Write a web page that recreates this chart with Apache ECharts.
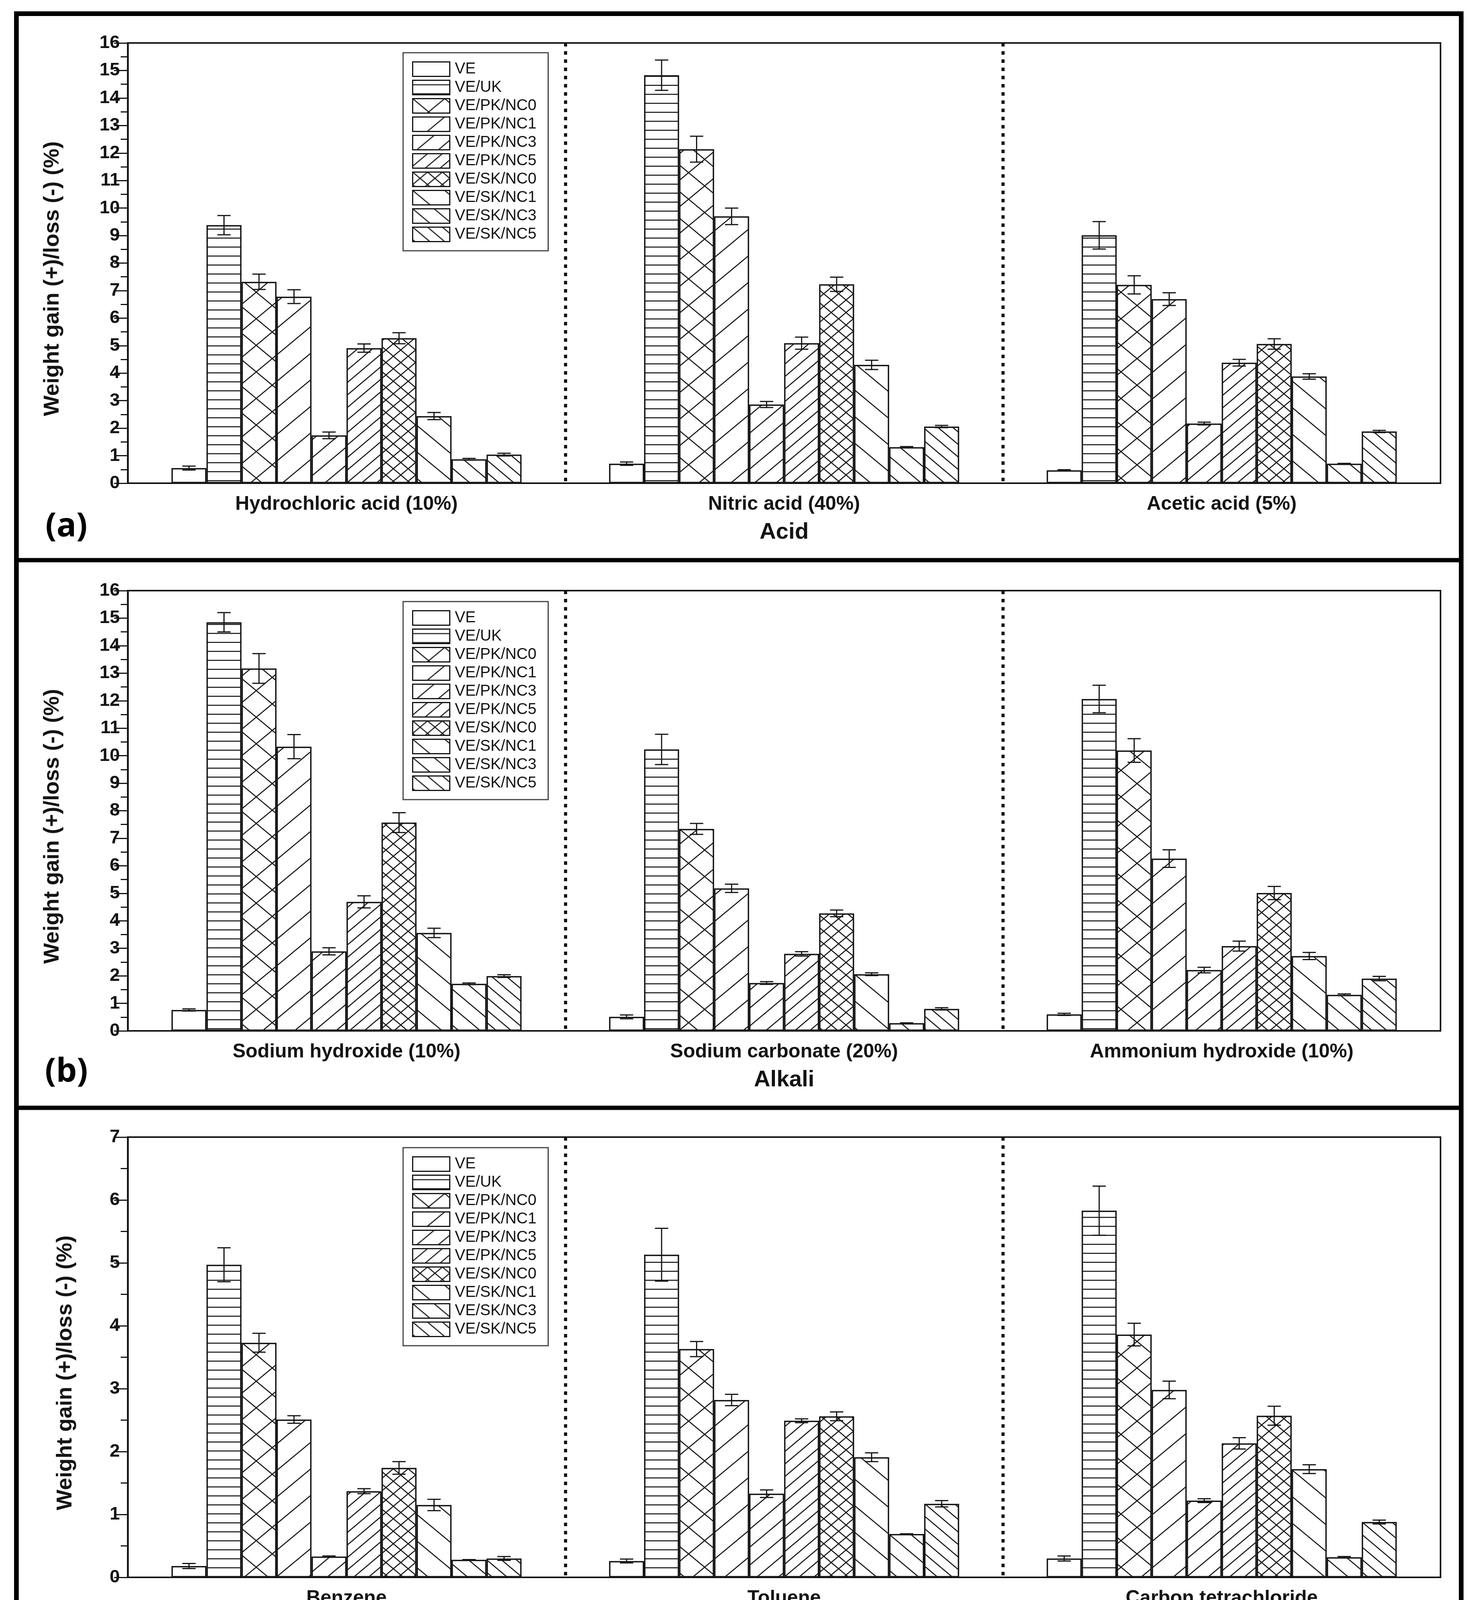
<!DOCTYPE html>
<html>
<head>
<meta charset="utf-8">
<script src="https://cdn.jsdelivr.net/npm/echarts@6/dist/echarts.min.js"></script>
<style>
html,body{margin:0;padding:0;background:#fff;}
#chart{width:3784px;height:4310px;}
</style>
</head>
<body>
<div id="chart"></div>
<script>
// ---------- data ----------
const seriesNames = ['VE','VE/UK','VE/PK/NC0','VE/PK/NC1','VE/PK/NC3','VE/PK/NC5','VE/SK/NC0','VE/SK/NC1','VE/SK/NC3','VE/SK/NC5'];

const acidCategories = ['Hydrochloric acid (10%)','Nitric acid (40%)','Acetic acid (5%)'];
const alkaliCategories = ['Sodium hydroxide (10%)','Sodium carbonate (20%)','Ammonium hydroxide (10%)'];
const solventCategories = ['Benzene','Toluene','Carbon tetrachloride'];

const hclValues    = [0.55, 9.38, 7.32, 6.78, 1.74, 4.91, 5.27, 2.44, 0.87, 1.04];
const hclErrors    = [0.07, 0.35, 0.28, 0.25, 0.12, 0.15, 0.20, 0.13, 0.03, 0.05];
const nitricValues = [0.71, 14.83, 12.14, 9.70, 2.86, 5.09, 7.23, 4.30, 1.31, 2.06];
const nitricErrors = [0.06, 0.55, 0.47, 0.30, 0.11, 0.22, 0.26, 0.17, 0.02, 0.04];
const aceticValues = [0.47, 9.01, 7.21, 6.69, 2.17, 4.38, 5.06, 3.88, 0.71, 1.88];
const aceticErrors = [0.02, 0.50, 0.33, 0.23, 0.05, 0.12, 0.19, 0.10, 0.01, 0.04];

const naohValues   = [0.76, 14.85, 13.17, 10.33, 2.89, 4.69, 7.57, 3.56, 1.71, 1.99];
const naohErrors   = [0.04, 0.35, 0.54, 0.44, 0.13, 0.22, 0.36, 0.17, 0.03, 0.05];
const na2co3Values = [0.51, 10.23, 7.34, 5.18, 1.74, 2.80, 4.27, 2.06, 0.28, 0.80];
const na2co3Errors = [0.07, 0.55, 0.20, 0.15, 0.05, 0.08, 0.12, 0.05, 0.01, 0.04];
const nh4ohValues  = [0.60, 12.06, 10.19, 6.26, 2.21, 3.08, 5.01, 2.72, 1.31, 1.90];
const nh4ohErrors  = [0.04, 0.50, 0.43, 0.32, 0.10, 0.18, 0.24, 0.13, 0.03, 0.08];

const benzeneValues = [0.18, 4.97, 3.73, 2.51, 0.33, 1.37, 1.74, 1.15, 0.28, 0.30];
const benzeneErrors = [0.04, 0.27, 0.15, 0.06, 0.01, 0.04, 0.10, 0.09, 0.003, 0.03];
const tolueneValues = [0.26, 5.13, 3.63, 2.82, 1.33, 2.49, 2.56, 1.91, 0.69, 1.17];
const tolueneErrors = [0.03, 0.42, 0.12, 0.09, 0.06, 0.03, 0.07, 0.07, 0.003, 0.05];
const ccl4Values    = [0.30, 5.83, 3.86, 2.98, 1.22, 2.13, 2.57, 1.72, 0.32, 0.88];
const ccl4Errors    = [0.04, 0.39, 0.18, 0.14, 0.03, 0.09, 0.15, 0.07, 0.01, 0.03];

const groupNames = ['Acid','Alkali','Solvent'];
const panelLetters = ['(a)','(b)','(c)'];
const yMaxes = [16, 16, 7];

// ---------- assembly ----------
const panels = [
  {cats: acidCategories, vals: [hclValues, nitricValues, aceticValues], errs: [hclErrors, nitricErrors, aceticErrors]},
  {cats: alkaliCategories, vals: [naohValues, na2co3Values, nh4ohValues], errs: [naohErrors, na2co3Errors, nh4ohErrors]},
  {cats: solventCategories, vals: [benzeneValues, tolueneValues, ccl4Values], errs: [benzeneErrors, tolueneErrors, ccl4Errors]}
];

const INK = '#141414';

function hatch(w, h, kinds, lw) {
  const c = document.createElement('canvas');
  c.width = w; c.height = h;
  const ctx = c.getContext('2d');
  ctx.fillStyle = '#fff';
  ctx.fillRect(0, 0, w, h);
  ctx.strokeStyle = INK;
  ctx.lineWidth = lw;
  kinds.forEach(k => {
    ctx.beginPath();
    if (k === 'h') {
      ctx.moveTo(-2, h / 2); ctx.lineTo(w + 2, h / 2);
    } else if (k === '/') {
      for (let n = -1; n <= 3; n++) {
        ctx.moveTo(-w, h * (n + 1)); ctx.lineTo(2 * w, h * (n - 2));
      }
    } else if (k === '\\') {
      for (let n = -2; n <= 2; n++) {
        ctx.moveTo(-w, h * (-1 - n)); ctx.lineTo(2 * w, h * (2 - n));
      }
    }
    ctx.stroke();
  });
  return {image: c, repeat: 'repeat'};
}

const fills = [
  '#ffffff',
  hatch(12, 23, ['h'], 2.6),
  hatch(82, 68, ['/', '\\'], 2.6),
  hatch(82, 68, ['/'], 2.6),
  hatch(55, 46, ['/'], 2.6),
  hatch(38, 32, ['/'], 2.6),
  hatch(38, 32, ['/', '\\'], 2.6),
  hatch(82, 68, ['\\'], 2.6),
  hatch(55, 46, ['\\'], 2.6),
  hatch(38, 32, ['\\'], 2.6)
];

const gridTops = [110, 1512, 2911];
const gridH = 1127;
const legendTops = [135, 1540, 2938];

const grids = gridTops.map(t => ({left: 327, right: 96, top: t, height: gridH, show: true, borderColor: INK, borderWidth: 4, backgroundColor: 'transparent'}));

const xAxes = panels.map((p, i) => ({
  type: 'category', gridIndex: i, data: p.cats,
  axisTick: {show: false},
  axisLine: {lineStyle: {color: INK, width: 4}},
  axisLabel: {fontSize: 50, fontWeight: 'bold', color: INK, margin: 29, fontFamily: 'Liberation Sans'},
  splitLine: {show: true, showMinLine: false, showMaxLine: false, lineStyle: {color: INK, width: 8, type: [9, 12]}},
  name: groupNames[i], nameLocation: 'middle', nameGap: 97,
  nameTextStyle: {fontSize: 58, fontWeight: 'bold', color: INK, fontFamily: 'Liberation Sans'}
}));

const yAxes = panels.map((p, i) => ({
  type: 'value', gridIndex: i, min: 0, max: yMaxes[i], interval: 1,
  axisLine: {show: true, lineStyle: {color: INK, width: 4.5}},
  axisTick: {show: true, length: 35, lineStyle: {width: 3, color: INK}},
  minorTick: {show: true, splitNumber: 2, length: 18, lineStyle: {width: 3, color: INK}},
  splitLine: {show: false},
  axisLabel: {fontSize: 47, fontWeight: 'bold', color: INK, margin: 20, fontFamily: 'Liberation Sans'},
  name: 'Weight gain (+)/loss (-) (%)', nameLocation: 'middle', nameGap: i === 2 ? 131 : 164,
  nameTextStyle: {fontSize: 56, fontWeight: 'bold', color: INK, fontFamily: 'Liberation Sans', padding: [0, 80, 0, 0]}
}));

const legends = [0, 1, 2].map(i => ({
  data: seriesNames, orient: 'vertical', left: 1032, top: legendTops[i],
  itemWidth: 95, itemHeight: 37, itemGap: 7, icon: 'rect',
  padding: [22, 30, 22, 23], borderColor: '#444', borderWidth: 3,
  backgroundColor: '#fff',
  textStyle: {fontSize: 40, color: INK, fontFamily: 'Liberation Sans', padding: [0, 0, 0, 8]},
  itemStyle: {borderColor: INK, borderWidth: 3},
  selectedMode: false
}));

const series = [];
panels.forEach((p, pi) => {
  seriesNames.forEach((name, si) => {
    series.push({
      type: 'bar', name: name, xAxisIndex: pi, yAxisIndex: pi,
      data: p.vals.map(arr => arr[si]),
      barGap: '0%', barCategoryGap: '20%',
      itemStyle: {color: fills[si], borderColor: INK, borderWidth: 3.5},
      emphasis: {disabled: true}, silent: true, z: 2
    });
  });
  const errData = [];
  p.vals.forEach((arr, ci) => {
    arr.forEach((v, si) => errData.push([ci, si, v, p.errs[ci][si]]));
  });
  series.push({
    type: 'custom', xAxisIndex: pi, yAxisIndex: pi, data: errData,
    encode: {x: 0, y: 2}, silent: true, z: 10,
    renderItem: function (params, api) {
      const cat = api.value(0), si = api.value(1), v = api.value(2), e = api.value(3);
      const band = api.size([1, 0])[0];
      const bw = band * 0.8 / 10;
      const x = api.coord([cat, 0])[0] - band * 0.4 + (si + 0.5) * bw;
      const y1 = api.coord([cat, v + e])[1];
      const y2 = api.coord([cat, Math.max(v - e, 0)])[1];
      const hw = 17;
      const st = {stroke: INK, lineWidth: 3};
      return {type: 'group', children: [
        {type: 'line', shape: {x1: x, y1: y1, x2: x, y2: y2}, style: st},
        {type: 'line', shape: {x1: x - hw, y1: y1, x2: x + hw, y2: y1}, style: st},
        {type: 'line', shape: {x1: x - hw, y1: y2, x2: x + hw, y2: y2}, style: st}
      ]};
    }
  });
});

const letterY = [1349, 2745, 4150];
const graphics = [
  {type: 'rect', shape: {x: 42, y: 35, width: 3699, height: 4210}, style: {fill: 'none', stroke: '#000', lineWidth: 12}, z: 100},
  {type: 'line', shape: {x1: 42, y1: 1434, x2: 3741, y2: 1434}, style: {stroke: '#000', lineWidth: 11}, z: 100},
  {type: 'line', shape: {x1: 42, y1: 2836, x2: 3741, y2: 2836}, style: {stroke: '#000', lineWidth: 11}, z: 100}
];
panelLetters.forEach((t, i) => {
  graphics.push({type: 'text', x: 170, y: letterY[i], z: 100,
    style: {text: t, fontSize: 84, fontWeight: 'bold', fontFamily: 'Open Sans', fill: '#000', align: 'center', verticalAlign: 'middle'}});
});

const chart = echarts.init(document.getElementById('chart'), null, {renderer: 'canvas'});
chart.setOption({
  animation: false,
  backgroundColor: '#ffffff',
  textStyle: {fontFamily: 'Liberation Sans'},
  grid: grids,
  xAxis: xAxes,
  yAxis: yAxes,
  legend: legends,
  series: series,
  graphic: graphics
});
</script>
</body>
</html>
